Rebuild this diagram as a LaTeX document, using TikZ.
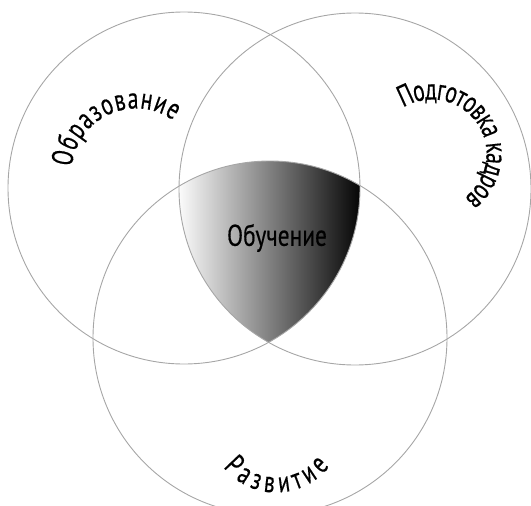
\documentclass[tikz,border=0pt]{standalone}
\usepackage{fontspec}
\setmainfont{PT Sans}
\newfontfamily\lblfont[FakeStretch=0.72, FakeBold=0.4]{PT Sans}
\newfontfamily\corefont[FakeStretch=0.78, FakeBold=0.4]{PT Sans}
\usetikzlibrary{decorations.text}
\definecolor{ringgray}{HTML}{A6A6A6}
\begin{document}
\begin{tikzpicture}[x=1pt,y=-1pt]
\tikzset{
  ring/.style={draw=ringgray, line width=0.9pt},
  curvelabel/.style={decorate, decoration={text along path, text align={fit to path}, raise=-7.5pt,
      text={|\lblfont\fontsize{30}{34}\selectfont|#1}}}
}
\useasboundingbox (0,0) rectangle (531,506);
\coordinate (A) at (184,188);
\coordinate (B) at (355,189);
\coordinate (C) at (270,338);
% shaded common region
\begin{scope}
  \clip (A) circle[radius=176];
  \clip (B) circle[radius=176];
  \clip (C) circle[radius=177];
  \shade[left color=white, right color=black] (176,150) rectangle (364,350);
\end{scope}
% circles
\draw[ring] (A) circle[radius=176];
\draw[ring] (B) circle[radius=176];
\draw[ring] (C) circle[radius=177];
% centre label
\node[font=\corefont\fontsize{30}{34}\selectfont] (core) at (277,238) {Обучение};
% curved labels
\coordinate (ea) at (136,173);
\coordinate (pa) at (432,154);
\coordinate (ra) at (276,425);
\path[curvelabel={Образование}] (ea) ++(186:72) arc[start angle=186, end angle=305, radius=72];
\path[curvelabel={Подготовка кадров}] (pa) ++(-121:62) arc[start angle=-121, end angle=53, radius=62];
\path[curvelabel={Развитие}] (ra) ++(142:60) arc[start angle=142, end angle=37, radius=60];
\end{tikzpicture}
\end{document}
